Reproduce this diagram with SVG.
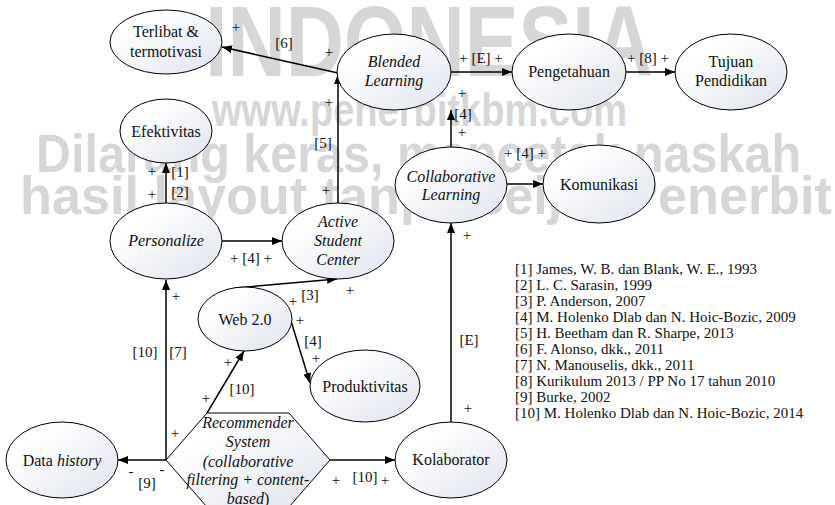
<svg xmlns="http://www.w3.org/2000/svg" width="835" height="505" viewBox="0 0 835 505">
  <defs>
    <linearGradient id="nodeFill" x1="0" y1="0" x2="1" y2="1">
      <stop offset="0.25" stop-color="#ffffff"/>
      <stop offset="1" stop-color="#dfe3ee"/>
    </linearGradient>
    <marker id="arrow" viewBox="0 0 10 8" refX="10" refY="4" markerWidth="10" markerHeight="8" markerUnits="userSpaceOnUse" orient="auto">
      <path d="M0,0 L10,4 L0,8 Z" fill="#000"/>
    </marker>
    <style>
      .wm { font-weight: bold; fill: #d6d6d6; }
      .node ellipse, .node polygon { fill: url(#nodeFill); stroke: #000; stroke-width: 1; }
      .node text { font-size: 16px; fill: #111; text-anchor: middle; }
      .it { font-style: italic; }
      .edges path { fill: none; stroke: #000; stroke-width: 1.5; marker-end: url(#arrow); }
      .lbl text { font-size: 15px; fill: #111; text-anchor: middle; }
      .refs text { font-size: 15px; fill: #111; }
    </style>
  </defs>

  <rect width="835" height="505" fill="#fff"/>

  <!-- publisher watermark -->
  <g id="watermark" font-family="Liberation Sans, Arial, sans-serif">
    <text class="wm" x="205" y="76" font-size="100" textLength="448" lengthAdjust="spacingAndGlyphs">INDONESIA</text>
    <text class="wm" x="212" y="126" font-size="46" textLength="415" lengthAdjust="spacingAndGlyphs">www.penerbitkbm.com</text>
    <text class="wm" x="36" y="172" font-size="54" textLength="765" lengthAdjust="spacingAndGlyphs">Dilarang keras, mencetak naskah</text>
    <text class="wm" x="20" y="214" font-size="54" textLength="812" lengthAdjust="spacingAndGlyphs">hasil layout tanpa seijin Penerbit</text>
  </g>

  <!-- connectors -->
  <g id="connectors" class="edges">
    <path d="M338,73 L222,47"/>
    <path d="M338,203 L338,74"/>
    <path d="M451,72 L512,72"/>
    <path d="M626,72 L675,72"/>
    <path d="M451,147 L451,110"/>
    <path d="M507,184 L543,184"/>
    <path d="M451,422 L451,223"/>
    <path d="M166,203 L166,163"/>
    <path d="M222,241 L282,241"/>
    <path d="M235,288 L337,279"/>
    <path d="M291,321 L310,383"/>
    <path d="M207,413 L244,351"/>
    <path d="M166,460 L166,280"/>
    <path d="M166,460 L118,460"/>
    <path d="M330,460 L395,460"/>
  </g>

  <g font-family="Liberation Serif, Times New Roman, serif">
  <!-- nodes -->
  <g id="terlibat" class="node">
    <ellipse cx="166" cy="42" rx="56" ry="32"/>
    <text x="166" y="37">Terlibat &amp;</text>
    <text x="166" y="57">termotivasi</text>
  </g>
  <g id="blended" class="node">
    <ellipse cx="394" cy="72" rx="57" ry="38"/>
    <text class="it" x="394" y="67">Blended</text>
    <text class="it" x="394" y="86">Learning</text>
  </g>
  <g id="pengetahuan" class="node">
    <ellipse cx="569" cy="72" rx="57" ry="38"/>
    <text x="569" y="77">Pengetahuan</text>
  </g>
  <g id="tujuan" class="node">
    <ellipse cx="731" cy="72" rx="56" ry="38"/>
    <text x="731" y="67">Tujuan</text>
    <text x="731" y="86">Pendidikan</text>
  </g>
  <g id="efektivitas" class="node">
    <ellipse cx="166" cy="131" rx="46" ry="32"/>
    <text x="166" y="137">Efektivitas</text>
  </g>
  <g id="personalize" class="node">
    <ellipse cx="166" cy="241" rx="56" ry="38"/>
    <text class="it" x="166" y="246">Personalize</text>
  </g>
  <g id="active" class="node">
    <ellipse cx="338" cy="241" rx="56" ry="38"/>
    <text class="it" x="338" y="227">Active</text>
    <text class="it" x="338" y="246">Student</text>
    <text class="it" x="338" y="265">Center</text>
  </g>
  <g id="collaborative" class="node">
    <ellipse cx="451" cy="185" rx="56" ry="38"/>
    <text class="it" x="451" y="182">Collaborative</text>
    <text class="it" x="451" y="200">Learning</text>
  </g>
  <g id="komunikasi" class="node">
    <ellipse cx="599" cy="184" rx="56" ry="39"/>
    <text x="599" y="190">Komunikasi</text>
  </g>
  <g id="web20" class="node">
    <ellipse cx="245" cy="319" rx="47" ry="32"/>
    <text x="245" y="325">Web 2.0</text>
  </g>
  <g id="produktivitas" class="node">
    <ellipse cx="365" cy="386" rx="55" ry="36"/>
    <text x="365" y="392">Produktivitas</text>
  </g>
  <g id="datahistory" class="node">
    <ellipse cx="62" cy="460" rx="56" ry="38"/>
    <text x="62" y="466">Data <tspan class="it">history</tspan></text>
  </g>
  <g id="kolaborator" class="node">
    <ellipse cx="451" cy="460" rx="56" ry="38"/>
    <text x="451" y="465">Kolaborator</text>
  </g>
  <g id="recommender" class="node">
    <polygon points="166,460 207,413 289,413 330,460 289,507 207,507"/>
    <text class="it" x="248" y="428">Recommender</text>
    <text class="it" x="248" y="447">System</text>
    <text class="it" x="248" y="467">(collaborative</text>
    <text class="it" x="248" y="485">filtering + content-</text>
    <text x="248" y="504"><tspan class="it">based</tspan>)</text>
  </g>

  <!-- connector labels -->
  <g id="labels" class="lbl">
    <text x="236" y="32">+</text>
    <text x="284" y="48">[6]</text>
    <text x="329" y="57">+</text>

    <text x="329" y="107">+</text>
    <text x="323" y="148">[5]</text>
    <text x="326" y="195">+</text>

    <text x="481" y="63">+ [E] +</text>
    <text x="648" y="63">+ [8] +</text>

    <text x="462" y="98">+</text>
    <text x="463" y="119">[4]</text>
    <text x="462" y="137">+</text>

    <text x="525" y="158">+ [4] +</text>

    <text x="467" y="240">+</text>
    <text x="469" y="345">[E]</text>
    <text x="468" y="413">+</text>

    <text x="152" y="176">+</text>
    <text x="180" y="177">[1]</text>
    <text x="152" y="199">+</text>
    <text x="180" y="197">[2]</text>

    <text x="251" y="263">+ [4] +</text>

    <text x="293" y="306">+</text>
    <text x="310" y="300">[3]</text>
    <text x="350" y="295">+</text>

    <text x="300" y="325">+</text>
    <text x="313" y="346">[4]</text>
    <text x="316" y="363">+</text>

    <text x="228" y="367">+</text>
    <text x="242" y="394">[10]</text>
    <text x="206" y="403">+</text>

    <text x="176" y="301">+</text>
    <text x="145" y="357">[10]</text>
    <text x="178" y="357">[7]</text>
    <text x="175" y="438">+</text>

    <text x="131" y="476">-</text>
    <text x="147" y="488">[9]</text>
    <text x="162" y="474">-</text>

    <text x="336" y="485">+</text>
    <text x="365" y="482">[10]</text>
    <text x="385" y="485">+</text>
  </g>

  <!-- reference list -->
  <g id="references" class="refs">
    <text x="515" y="274">[1] James, W. B. dan Blank, W. E., 1993</text>
    <text x="515" y="290">[2] L. C. Sarasin, 1999</text>
    <text x="515" y="306">[3] P. Anderson, 2007</text>
    <text x="515" y="322">[4] M. Holenko Dlab dan N. Hoic-Bozic, 2009</text>
    <text x="515" y="338">[5] H. Beetham dan R. Sharpe, 2013</text>
    <text x="515" y="354">[6] F. Alonso, dkk., 2011</text>
    <text x="515" y="370">[7] N. Manouselis, dkk., 2011</text>
    <text x="515" y="386">[8] Kurikulum 2013 / PP No 17 tahun 2010</text>
    <text x="515" y="402">[9] Burke, 2002</text>
    <text x="515" y="418">[10] M. Holenko Dlab dan N. Hoic-Bozic, 2014</text>
  </g>
  </g>
</svg>
